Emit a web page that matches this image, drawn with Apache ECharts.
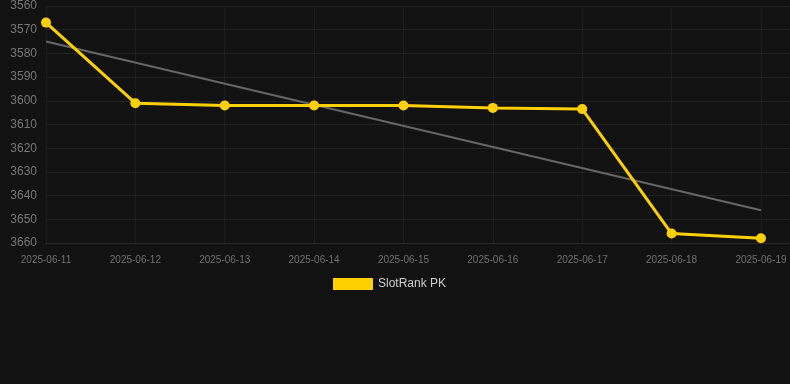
<!DOCTYPE html>
<html>
<head>
<meta charset="utf-8">
<script src="https://cdn.jsdelivr.net/npm/echarts@6/dist/echarts.min.js"></script>
<style>
html,body{margin:0;padding:0;background:#121212;}
#c{width:790px;height:384px;}
</style>
</head>
<body>
<div id="c"></div>
<script>
var categories = ['2025-06-11','2025-06-12','2025-06-13','2025-06-14','2025-06-15','2025-06-16','2025-06-17','2025-06-18','2025-06-19'];
var rankValues = [3567, 3601, 3602, 3602, 3602, 3603, 3603.5, 3656, 3658];
var trendValues = [3575, 3646.2];
var yTicks = [3560, 3570, 3580, 3590, 3600, 3610, 3620, 3630, 3640, 3650, 3660];

var chart = echarts.init(document.getElementById('c'), null, {renderer:'canvas'});
var rankData = rankValues.map(function(v,i){return [i,v];});
var trendData = [[0, trendValues[0]], [categories.length-1, trendValues[1]]];
var xIdx = categories.map(function(c,i){return i;});

chart.setOption({
  backgroundColor:'#121212',
  animation:false,
  grid:{left:46, right:0, top:5, bottom:141},
  legend:{
    data:['SlotRank PK'],
    top:273, left:328,
    itemWidth:40, itemHeight:12, itemGap:5,
    icon:'rect',
    textStyle:{color:'#cccccc', fontSize:12, fontFamily:'Liberation Sans, Arial, sans-serif'}
  },
  xAxis:{
    type:'value',
    min:0, max:8.325, interval:1,
    axisLine:{show:true, lineStyle:{color:'#2a2a2a'}},
    axisTick:{show:false, customValues:xIdx},
    splitLine:{show:true, lineStyle:{color:'#1e1e1e'}},
    axisLabel:{
      color:'#707070', fontSize:10, margin:12,
      customValues:xIdx,
      fontFamily:'Liberation Sans, Arial, sans-serif',
      formatter:function(v){ return categories[Math.round(v)] || ''; }
    }
  },
  yAxis:{
    type:'value',
    inverse:true,
    min:yTicks[0], max:yTicks[yTicks.length-1], interval:10,
    axisLine:{show:false},
    axisTick:{show:false},
    splitLine:{show:true, lineStyle:{color:'#222222'}},
    axisLabel:{color:'#777777', fontSize:12, margin:9, fontFamily:'Liberation Sans, Arial, sans-serif',
      formatter:function(v){ return String(v); }}
  },
  series:[
    {
      name:'Trend',
      type:'line',
      data:trendData,
      symbol:'none',
      lineStyle:{color:'#666666', width:2},
      z:1
    },
    {
      name:'SlotRank PK',
      type:'line',
      data:rankData,
      symbol:'circle',
      symbolSize:10,
      itemStyle:{color:'#ffd000'},
      lineStyle:{color:'#ffd000', width:3},
      z:2
    }
  ]
});
</script>
</body>
</html>
